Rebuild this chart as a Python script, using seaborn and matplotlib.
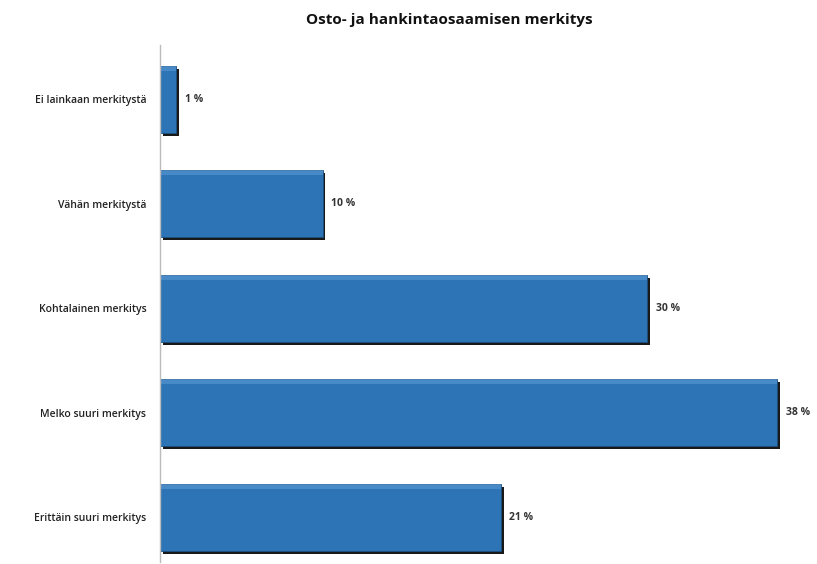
import matplotlib
matplotlib.use("Agg")
import matplotlib.pyplot as plt
import matplotlib.patheffects as pe
import seaborn as sns
import pandas as pd

categories = ["Ei lainkaan merkitystä", "Vähän merkitystä", "Kohtalainen merkitys",
              "Melko suuri merkitys", "Erittäin suuri merkitys"]
values = [1, 10, 30, 38, 21]
value_labels = ["1 %", "10 %", "30 %", "38 %", "21 %"]
title = "Osto- ja hankintaosaamisen merkitys"

df = pd.DataFrame({"kategoria": categories, "osuus": values})

sns.set_theme(style="white")
plt.rcParams["font.family"] = ["Open Sans", "DejaVu Sans"]

fig = plt.figure(figsize=(8.17, 5.64), dpi=100)
ax = fig.add_axes([0.196, 0.003, 0.795, 0.917])

sns.barplot(data=df, x="osuus", y="kategoria", orient="h", color="#2C74B6",
            saturation=1, width=0.64, ax=ax)

for bar in ax.patches:
    bar.set_edgecolor("#1d4f80")
    bar.set_linewidth(0.6)
    bar.set_path_effects([
        pe.SimplePatchShadow(offset=(2, -2), shadow_rgbFace="black", alpha=0.9, rho=0.2),
        pe.Normal(),
    ])
    # soft highlight along the top edge
    x0, y0 = bar.get_x(), bar.get_y()
    w, h = bar.get_width(), bar.get_height()
    ax.add_patch(plt.Rectangle((x0, y0), w, h * 0.07, facecolor="#6aa6dc",
                               edgecolor="none", alpha=0.45, zorder=bar.get_zorder() + 0.1))

for bar, lab in zip(ax.patches[:len(values)], value_labels):
    ax.annotate(lab, (bar.get_width(), bar.get_y() + bar.get_height() / 2),
                xytext=(6, 0), textcoords="offset points", va="center", ha="left",
                fontsize=7.5, fontweight="bold", color="#333333")

ax.set_xlim(0, 40)
ax.set_ylim(4.43, -0.52)
ax.set_xlabel("")
ax.set_ylabel("")
ax.set_xticks([])
ax.tick_params(axis="y", length=0, pad=10, labelsize=7.5, labelcolor="#222222")
for t in ax.get_yticklabels():
    t.set_fontweight("semibold")
for s in ["top", "right", "bottom"]:
    ax.spines[s].set_visible(False)
ax.spines["left"].set_color("#bbbbbb")
ax.spines["left"].set_linewidth(1)

fig.text(0.55, 0.965, title, ha="center", va="center", fontsize=11, fontweight="bold",
         color="#111111")

fig.savefig("out.png", dpi=100)
